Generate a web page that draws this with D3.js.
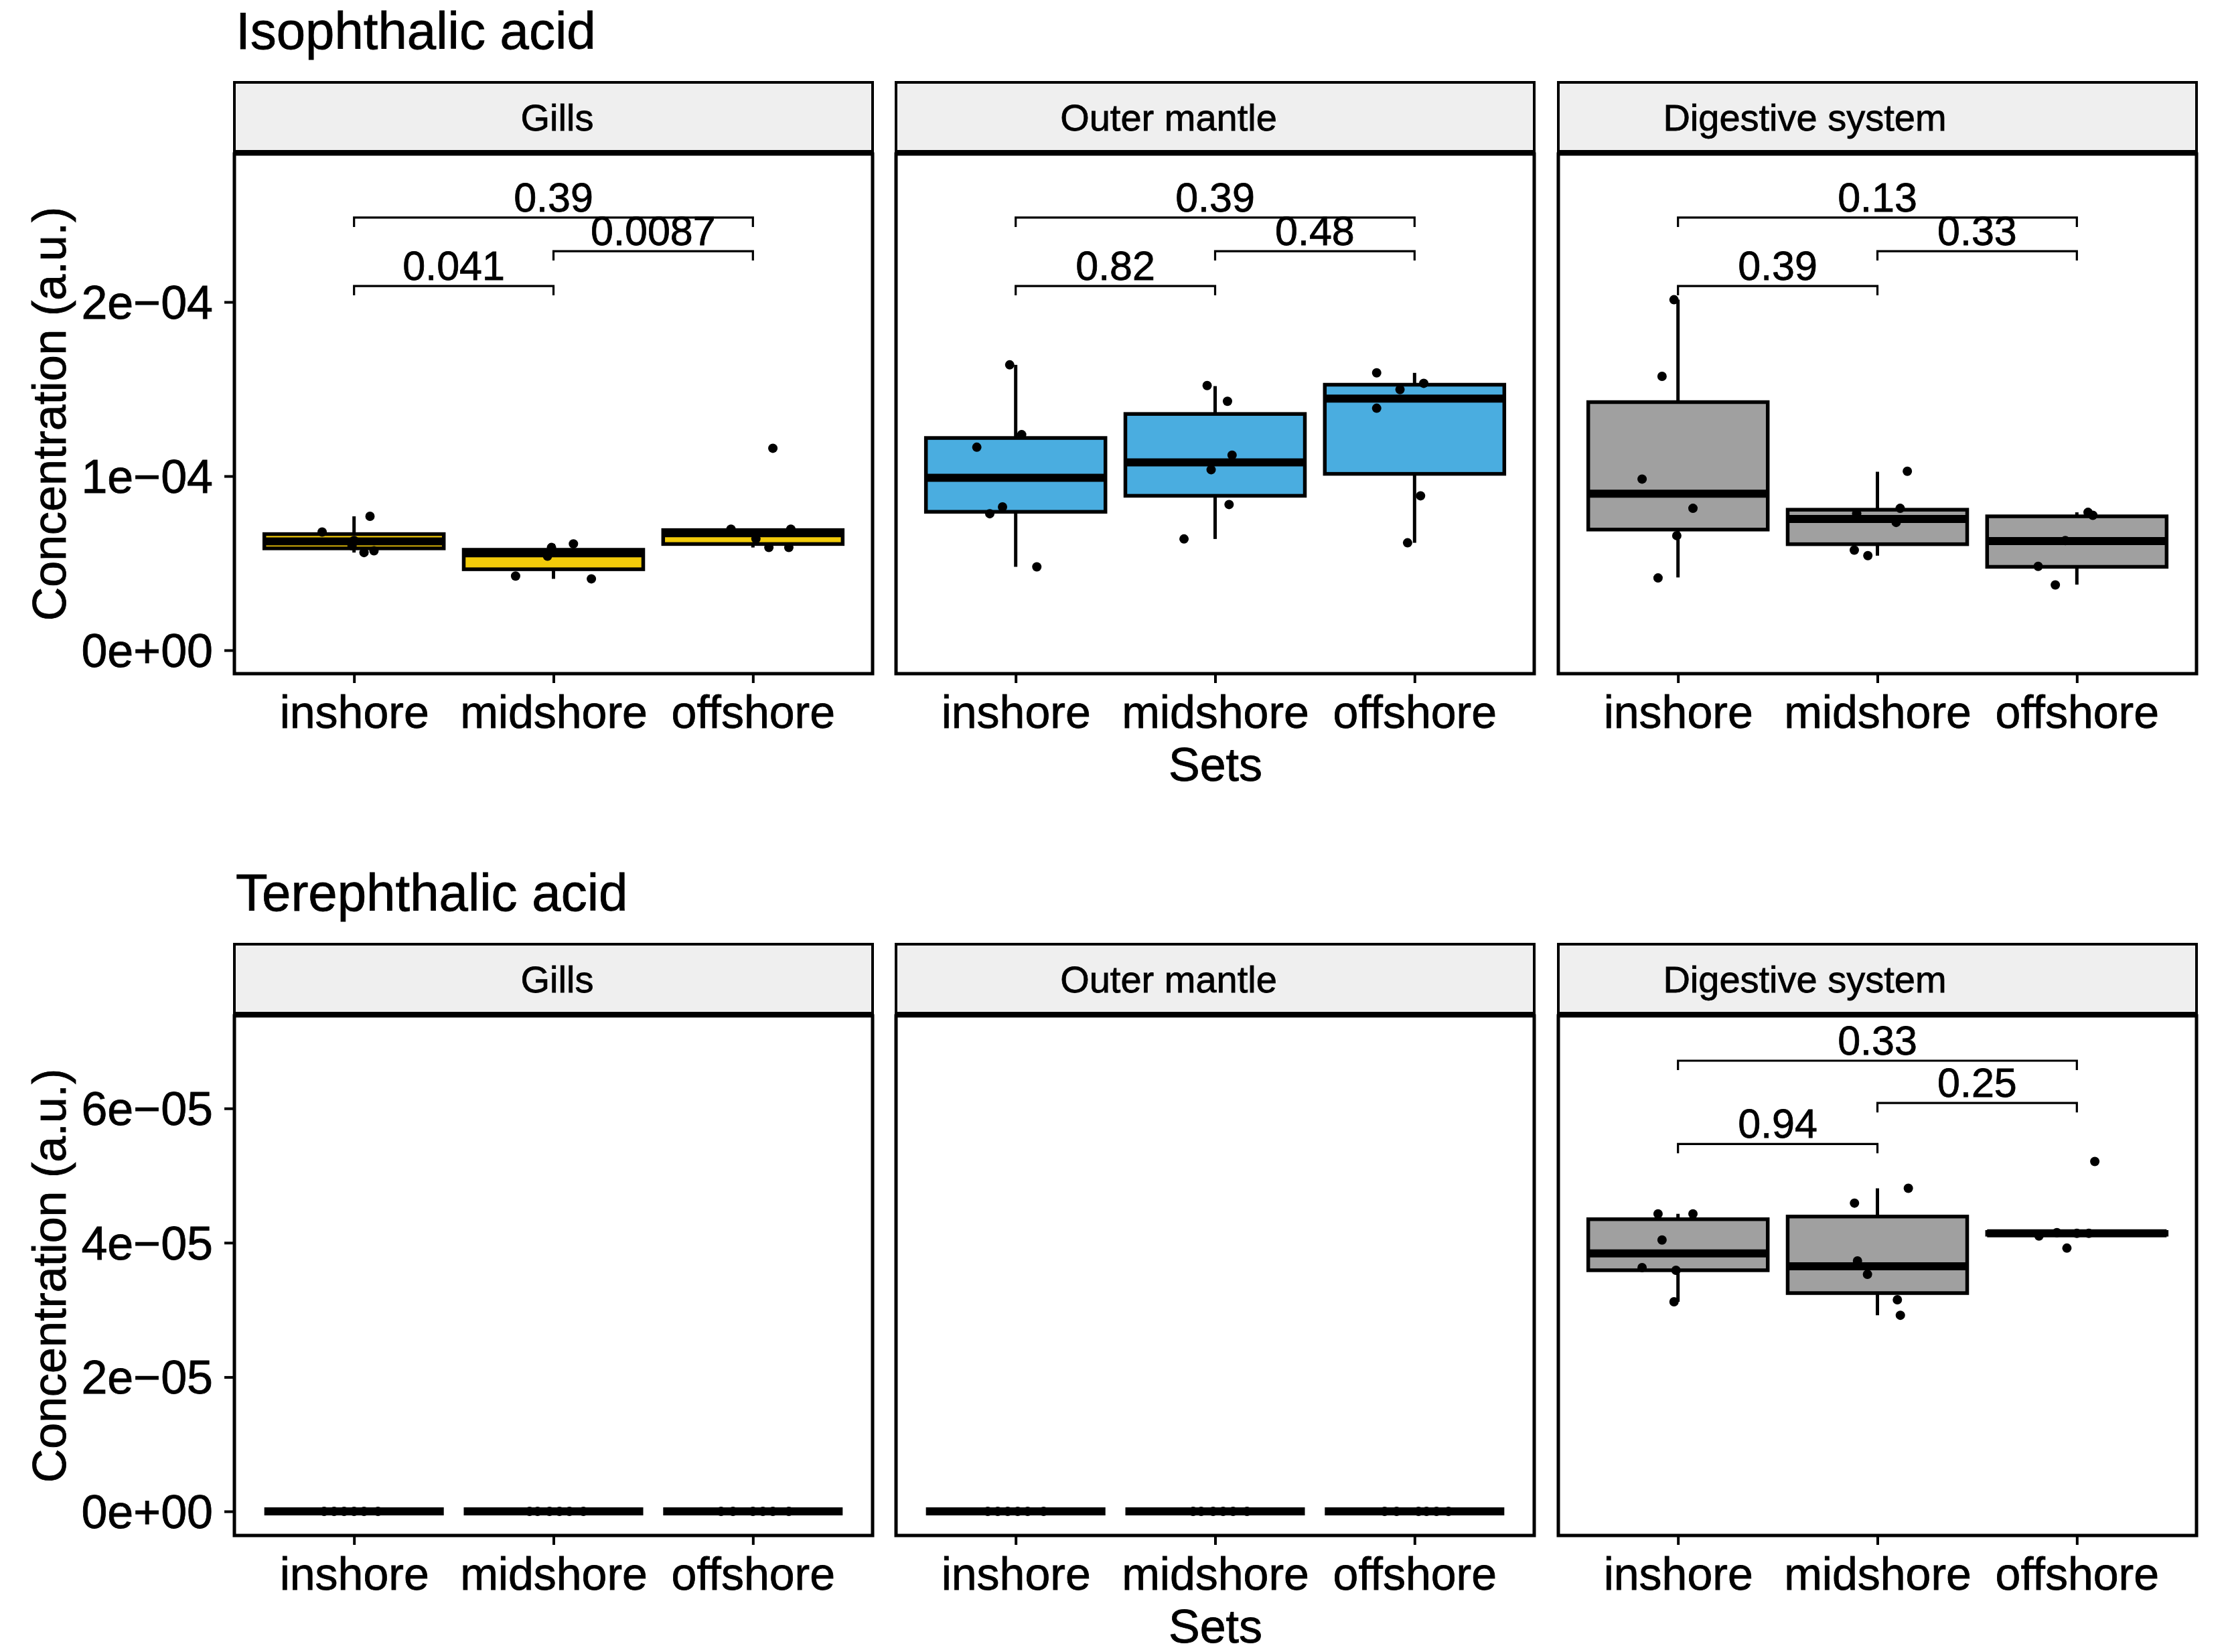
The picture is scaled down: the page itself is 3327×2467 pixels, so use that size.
<!DOCTYPE html>
<html>
<head>
<meta charset="utf-8">
<script src="https://cdn.jsdelivr.net/npm/d3@7"></script>
<style>
  body { margin: 0; background: #fff; }
  svg text { font-family: "Liberation Sans", Arial, Helvetica, sans-serif; fill: #000; stroke: #000; stroke-width: 0.8px; }
</style>
</head>
<body>
<div id="chart"></div>
<script>
// categories
const sets = ["inshore", "midshore", "offshore"];
const tissues = ["Gills", "Outer mantle", "Digestive system"];
const acids = ["Isophthalic acid", "Terephthalic acid"];

// box stats per set: [lower whisker, q1, median, q3, upper whisker]
const isoGillsBox = [[5.61e-5, 5.85e-5, 6.25e-5, 6.67e-5, 7.69e-5], [4.10e-5, 4.65e-5, 5.57e-5, 5.77e-5, 6.11e-5], [5.90e-5, 6.10e-5, 6.72e-5, 6.90e-5, 7.00e-5]];
const isoMantleBox = [[4.79e-5, 7.95e-5, 9.90e-5, 12.19e-5, 16.39e-5], [6.39e-5, 8.87e-5, 10.79e-5, 13.57e-5, 15.17e-5], [6.17e-5, 10.13e-5, 14.45e-5, 15.25e-5, 15.93e-5]];
const isoDigBox = [[4.18e-5, 6.93e-5, 8.99e-5, 14.25e-5, 20.13e-5], [5.43e-5, 6.09e-5, 7.54e-5, 8.07e-5, 10.25e-5], [3.77e-5, 4.79e-5, 6.27e-5, 7.69e-5, 7.92e-5]];
const terGillsBox = [[0, 0, 0, 0, 0], [0, 0, 0, 0, 0], [0, 0, 0, 0, 0]];
const terMantleBox = [[0, 0, 0, 0, 0], [0, 0, 0, 0, 0], [0, 0, 0, 0, 0]];
const terDigBox = [[3.12e-5, 3.59e-5, 3.84e-5, 4.35e-5, 4.43e-5], [2.92e-5, 3.25e-5, 3.65e-5, 4.39e-5, 4.81e-5], [4.12e-5, 4.12e-5, 4.14e-5, 4.16e-5, 4.16e-5]];

// individual samples per set: [value, jitter]
const isoGillsPts = [
  [[6.79e-5, -0.16], [7.69e-5, 0.08], [6.30e-5, 0.0], [5.61e-5, 0.05], [5.71e-5, 0.10], [6.00e-5, -0.01]],
  [[4.26e-5, -0.19], [4.10e-5, 0.19], [6.11e-5, 0.10], [5.90e-5, -0.01], [5.40e-5, -0.03]],
  [[11.6e-5, 0.10], [6.95e-5, -0.11], [6.95e-5, 0.19], [5.90e-5, 0.08], [5.90e-5, 0.18], [6.40e-5, 0.015]]
];
const isoMantlePts = [
  [[16.39e-5, -0.03], [12.38e-5, 0.03], [11.66e-5, -0.195], [8.23e-5, -0.066], [7.84e-5, -0.13], [4.79e-5, 0.106]],
  [[15.20e-5, -0.04], [14.30e-5, 0.062], [11.20e-5, 0.085], [10.37e-5, -0.02], [8.37e-5, 0.07], [6.39e-5, -0.156]],
  [[15.93e-5, -0.19], [15.33e-5, 0.046], [14.97e-5, -0.073], [13.90e-5, -0.19], [8.87e-5, 0.03], [6.17e-5, -0.035]]
];
const isoDigPts = [
  [[20.13e-5, -0.02], [15.73e-5, -0.08], [9.83e-5, -0.18], [8.15e-5, 0.075], [6.58e-5, -0.006], [4.15e-5, -0.1]],
  [[10.28e-5, 0.15], [8.15e-5, 0.114], [7.34e-5, 0.094], [7.84e-5, -0.104], [5.75e-5, -0.116], [5.43e-5, -0.048]],
  [[7.92e-5, 0.056], [7.75e-5, 0.08], [6.30e-5, -0.058], [4.82e-5, -0.194], [3.75e-5, -0.108]]
];
const terGillsPts = [
  [[0, -0.15], [0, -0.05], [0, 0.05], [0, 0.12], [0, 0.0], [0, -0.1]],
  [[0, -0.12], [0, -0.02], [0, 0.08], [0, 0.15], [0, 0.03], [0, -0.08]],
  [[0, -0.1], [0, 0.0], [0, 0.1], [0, 0.18], [0, 0.05], [0, -0.16]]
];
const terMantlePts = [
  [[0, -0.14], [0, -0.04], [0, 0.06], [0, 0.14], [0, 0.01], [0, -0.09]],
  [[0, -0.11], [0, -0.01], [0, 0.09], [0, 0.16], [0, 0.04], [0, -0.07]],
  [[0, -0.09], [0, 0.02], [0, 0.11], [0, 0.17], [0, 0.06], [0, -0.15]]
];
const terDigPts = [
  [[4.43e-5, -0.1], [4.43e-5, 0.075], [4.04e-5, -0.08], [3.63e-5, -0.18], [3.59e-5, -0.01], [3.12e-5, -0.02]],
  [[4.81e-5, 0.155], [4.59e-5, -0.115], [3.73e-5, -0.1], [3.53e-5, -0.05], [3.15e-5, 0.1], [2.92e-5, 0.115]],
  [[5.21e-5, 0.09], [3.92e-5, -0.05], [4.10e-5, -0.19], [4.15e-5, -0.1], [4.14e-5, 0.06], [4.14e-5, 0.0]]
];

// pairwise comparisons, p-values and bracket heights
const comparisons = [["inshore", "midshore"], ["midshore", "offshore"], ["inshore", "offshore"]];
const isoGillsP = ["0.041", "0.0087", "0.39"];
const isoMantleP = ["0.82", "0.48", "0.39"];
const isoDigP = ["0.39", "0.33", "0.13"];
const terDigP = ["0.94", "0.25", "0.33"];
const isoBracketY = [2.092e-4, 2.292e-4, 2.485e-4];
const terBracketY = [5.47e-5, 6.08e-5, 6.71e-5];

// y ticks and limits
const isoTicks = [0, 1e-4, 2e-4];
const terTicks = [0, 2e-5, 4e-5, 6e-5];
const isoLim = [-0.1346e-4, 2.85e-4];
const terLim = [-0.359e-5, 7.378e-5];

// layout
const panelLeft = [350, 1338, 2327];
const panelW = 953;
const stripH = 107;
const panelH = 776;
const stripLabelX = [832, 1745, 2695];
const fills = ["#F2CB0A", "#4AADE0", "#A0A0A0"];

const rows = [
  { title: acids[0], top: 123, lim: isoLim, ticks: isoTicks,
    boxes: [isoGillsBox, isoMantleBox, isoDigBox], pts: [isoGillsPts, isoMantlePts, isoDigPts],
    pvals: [isoGillsP, isoMantleP, isoDigP], by: isoBracketY },
  { title: acids[1], top: 1410, lim: terLim, ticks: terTicks,
    boxes: [terGillsBox, terMantleBox, terDigBox], pts: [terGillsPts, terMantlePts, terDigPts],
    pvals: [null, null, terDigP], by: terBracketY }
];

// "2e-04" style labels, like R
function sciLabel(v) {
  if (v === 0) return "0e+00";
  const exp = Math.floor(Math.log10(Math.abs(v)) + 1e-9);
  const m = Math.round(v / Math.pow(10, exp));
  return `${m}e${exp < 0 ? "\u2212" : "+"}${String(Math.abs(exp)).padStart(2, "0")}`;
}

const svg = d3.select("#chart")
  .append("svg")
  .attr("width", 3327)
  .attr("height", 2467);

rows.forEach(row => {
  const panelTop = row.top + stripH;
  const panelBottom = panelTop + panelH;

  const y = d3.scaleLinear()
    .domain(row.lim)
    .range([panelBottom, panelTop]);

  // row title
  svg.append("text")
    .attr("x", 352)
    .attr("y", row.top - 50)
    .attr("font-size", 78)
    .text(row.title);

  // y axis title
  svg.append("text")
    .attr("transform", `translate(98, ${(panelTop + panelBottom) / 2}) rotate(-90)`)
    .attr("text-anchor", "middle")
    .attr("font-size", 70)
    .text("Concentration (a.u.)");

  // x axis title
  svg.append("text")
    .attr("x", 1815)
    .attr("y", panelBottom + 160)
    .attr("text-anchor", "middle")
    .attr("font-size", 70)
    .text("Sets");

  tissues.forEach((tissue, ti) => {
    const g = svg.append("g")
      .attr("transform", `translate(${panelLeft[ti]}, 0)`);

    const x = d3.scalePoint()
      .domain(sets)
      .range([0, panelW])
      .padding(0.6);
    const boxW = 0.9 * x.step();

    // strip
    g.append("rect")
      .attr("x", 0)
      .attr("y", row.top)
      .attr("width", panelW)
      .attr("height", stripH - 4)
      .attr("fill", "#EFEFEF")
      .attr("stroke", "#000")
      .attr("stroke-width", 4);
    g.append("text")
      .attr("x", stripLabelX[ti] - panelLeft[ti])
      .attr("y", row.top + 72)
      .attr("text-anchor", "middle")
      .attr("font-size", 56)
      .text(tissue);

    // boxplots
    const stats = row.boxes[ti];
    const boxG = g.selectAll(".box")
      .data(sets.map((s, i) => ({ set: s, st: stats[i] })))
      .enter()
      .append("g")
      .attr("class", "box");

    boxG.append("line")
      .attr("x1", d => x(d.set)).attr("x2", d => x(d.set))
      .attr("y1", d => y(d.st[0])).attr("y2", d => y(d.st[1]))
      .attr("stroke", "#000").attr("stroke-width", 5);
    boxG.append("line")
      .attr("x1", d => x(d.set)).attr("x2", d => x(d.set))
      .attr("y1", d => y(d.st[3])).attr("y2", d => y(d.st[4]))
      .attr("stroke", "#000").attr("stroke-width", 5);
    boxG.append("rect")
      .attr("x", d => x(d.set) - boxW / 2)
      .attr("width", boxW)
      .attr("y", d => y(d.st[3]))
      .attr("height", d => y(d.st[1]) - y(d.st[3]))
      .attr("fill", fills[ti])
      .attr("stroke", "#000")
      .attr("stroke-width", 5.5);
    boxG.append("line")
      .attr("x1", d => x(d.set) - boxW / 2)
      .attr("x2", d => x(d.set) + boxW / 2)
      .attr("y1", d => y(d.st[2])).attr("y2", d => y(d.st[2]))
      .attr("stroke", "#000").attr("stroke-width", 12);

    // jittered samples
    const pts = [];
    row.pts[ti].forEach((list, i) => list.forEach(p => pts.push({ set: sets[i], v: p[0], j: p[1] })));
    g.selectAll(".pt")
      .data(pts)
      .enter()
      .append("circle")
      .attr("class", "pt")
      .attr("cx", d => x(d.set) + d.j * x.step())
      .attr("cy", d => y(d.v))
      .attr("r", 7)
      .attr("fill", "#000");

    // comparison brackets
    const pv = row.pvals[ti];
    if (pv) {
      comparisons.forEach((c, i) => {
        const x1 = x(c[0]), x2 = x(c[1]), yy = y(row.by[i]);
        g.append("path")
          .attr("d", `M${x1},${yy + 14}V${yy}H${x2}V${yy + 14}`)
          .attr("fill", "none")
          .attr("stroke", "#000")
          .attr("stroke-width", 3.2);
        g.append("text")
          .attr("x", (x1 + x2) / 2)
          .attr("y", yy - 9)
          .attr("text-anchor", "middle")
          .attr("font-size", 61)
          .text(pv[i]);
      });
    }

    // panel border
    g.append("rect")
      .attr("x", 0)
      .attr("y", panelTop)
      .attr("width", panelW)
      .attr("height", panelH)
      .attr("fill", "none")
      .attr("stroke", "#000")
      .attr("stroke-width", 5);

    // x axis
    const xAxis = g.append("g")
      .attr("transform", `translate(0, ${panelBottom})`)
      .call(d3.axisBottom(x).tickSize(14).tickPadding(19));
    xAxis.select(".domain").remove();
    xAxis.selectAll("line").attr("stroke-width", 4);
    xAxis.selectAll("text").attr("font-size", 68).attr("font-family", null);

    // y axis on the first panel only
    if (ti === 0) {
      const yAxis = g.append("g")
        .call(d3.axisLeft(y).tickValues(row.ticks).tickFormat(sciLabel).tickSize(15).tickPadding(17));
      yAxis.select(".domain").remove();
      yAxis.selectAll("line").attr("stroke-width", 4);
      yAxis.selectAll("text").attr("font-size", 70).attr("font-family", null).attr("dy", "0.35em");
    }
  });
});
</script>
</body>
</html>
